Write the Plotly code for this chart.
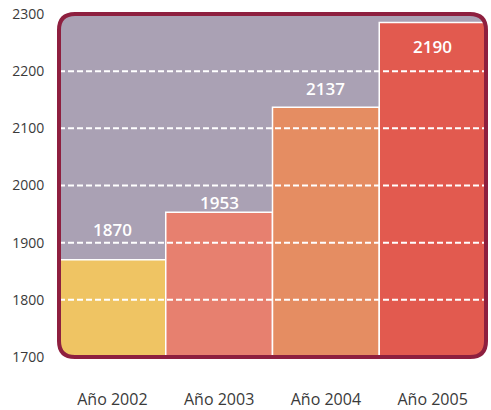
import plotly.graph_objects as go

categories = ["Año 2002", "Año 2003", "Año 2004", "Año 2005"]
bar_heights = [1870, 1953, 2137, 2285]
value_labels = ["1870", "1953", "2137", "2190"]
y_ticks = [1700, 1800, 1900, 2000, 2100, 2200, 2300]
grid_values = [1800, 1900, 2000, 2100, 2200]

bar_colors = ["#efc463", "#e7806f", "#e58d62", "#e25a4f"]
label_shift = [30, 10, 19, -24]

W, H = 491, 410
ml, mr, mt, mb = 59, 5, 14, 53
pw, ph = W - ml - mr, H - mt - mb

fig = go.Figure()
fig.add_trace(go.Bar(
    x=categories, y=[v - 1700 for v in bar_heights], base=1700,
    marker=dict(color=bar_colors, line=dict(color="white", width=1.5)),
    hoverinfo="skip",
))

for c, v, t, s in zip(categories, bar_heights, value_labels, label_shift):
    fig.add_annotation(x=c, y=v, text=t, showarrow=False, yshift=s,
                       font=dict(family="Open Sans", size=17, color="white", weight=600))

shapes = []
for g in grid_values:
    shapes.append(dict(type="line", xref="paper", yref="y", x0=0, x1=1, y0=g, y1=g,
                       line=dict(color="white", width=2, dash="6px,3px"), layer="above"))

r = 16
def rrect(x0, y0, x1, y1, r):
    return (f"M {x0+r},{y0} L {x1-r},{y0} Q {x1},{y0} {x1},{y0+r} "
            f"L {x1},{y1-r} Q {x1},{y1} {x1-r},{y1} L {x0+r},{y1} "
            f"Q {x0},{y1} {x0},{y1-r} L {x0},{y0+r} Q {x0},{y0} {x0+r},{y0} Z")

e = 3
outer = f"M {-e},{-e} L {pw+e},{-e} L {pw+e},{ph+e} L {-e},{ph+e} Z "
shapes.append(dict(type="path", xref="paper", yref="paper", xsizemode="pixel", ysizemode="pixel",
                   xanchor=0, yanchor=0, path=outer + rrect(0, 0, pw, ph, r),
                   fillcolor="white", fillrule="evenodd", line=dict(width=0), layer="above"))
shapes.append(dict(type="path", xref="paper", yref="paper", xsizemode="pixel", ysizemode="pixel",
                   xanchor=0, yanchor=0, path=rrect(0, 0, pw, ph, r),
                   line=dict(color="#8e1f3f", width=4), layer="above"))

fig.update_layout(
    width=W, height=H, margin=dict(l=ml, r=mr, t=mt, b=mb),
    paper_bgcolor="white", plot_bgcolor="#aaa1b4",
    bargap=0, showlegend=False, shapes=shapes,
    font=dict(family="Open Sans", color="#3a3a3a"),
    xaxis=dict(showgrid=False, zeroline=False, showline=False, ticks="outside", automargin=False,
               ticklen=28, tickcolor="rgba(0,0,0,0)", tickfont=dict(size=16, color="#3a3a3a")),
    yaxis=dict(range=[1700, 2300], tickvals=y_ticks, showgrid=False, zeroline=False, automargin=False,
               showline=False, ticks="outside", ticklen=11, tickcolor="rgba(0,0,0,0)",
               tickfont=dict(size=14, color="#3a3a3a")),
)

fig.write_html("out.html", config={"displayModeBar": False, "staticPlot": True},
               post_script="document.body.style.margin='0';document.body.style.overflow='hidden';")
